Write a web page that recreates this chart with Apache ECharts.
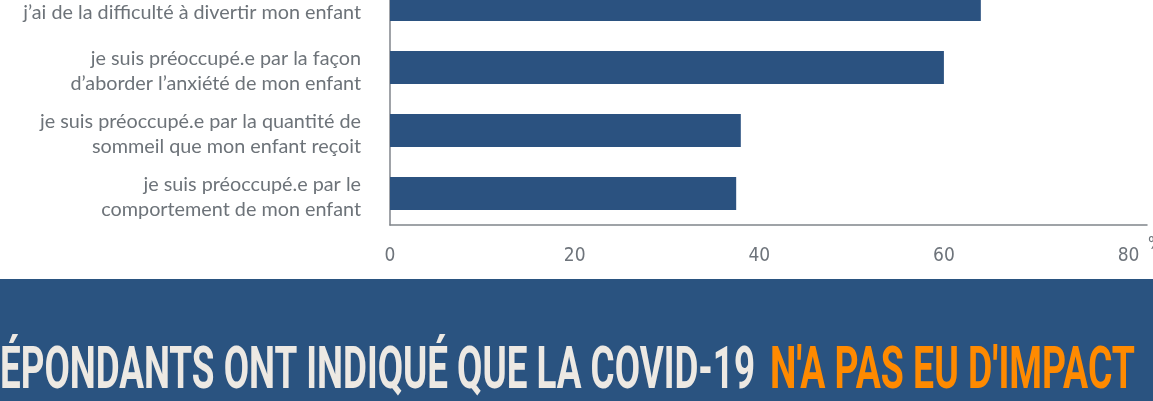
<!DOCTYPE html>
<html style="height: 100%" lang="fr">
<head>
    <meta charset="utf-8">
    <script type="text/javascript" src="https://cdn.jsdelivr.net/npm/echarts@6/dist/echarts.min.js"></script>
</head>
<body style="height: 100%; margin: 0; background: #ffffff; overflow: hidden">
<!-- the chart continues above the visible window, so the div starts above it -->
<div id="container" style="position: absolute; left: 0; top: -27px; width: 1153px; height: 428px"></div>
<script type="text/javascript">
    // categories, top to bottom
    var categories = [
        "j’ai de la difficulté à divertir mon enfant",
        "je suis préoccupé.e par la façon\nd’aborder l’anxiété de mon enfant",
        "je suis préoccupé.e par la quantité de\nsommeil que mon enfant reçoit",
        "je suis préoccupé.e par le\ncomportement de mon enfant"
    ];
    var values = [64, 60, 38, 37.5];
    var unitName = '%';

    var bannerWhite = "RÉPONDANTS ONT INDIQUÉ QUE LA COVID-19";
    var bannerOrange = "N'A PAS EU D'IMPACT";

    var offY = 27; // div offset

    var dom = document.getElementById("container");
    var myChart = echarts.init(dom);

    // banner font is condensed: measure and squeeze to width
    var bannerFont = 'bold 60px Roboto, "DejaVu Sans", sans-serif';
    var cv = document.createElement('canvas').getContext('2d');
    cv.font = bannerFont;
    var wVisible = cv.measureText("ÉPONDANTS ONT INDIQUÉ QUE LA COVID-19").width;
    var wOrange = cv.measureText(bannerOrange).width;
    var sWhite = 755 / wVisible;
    var sOrange = 365 / wOrange;

    var tickFont = '"DejaVu Sans Condensed", "Liberation Sans Narrow", Roboto, sans-serif';
    var labelColor = '#6d7379';

    var option = {
        animation: false,
        grid: {
            left: 390,
            right: 6,
            top: 0,
            height: 252
        },
        xAxis: {
            type: 'value',
            min: 0,
            max: 82,
            interval: 20,
            splitLine: {show: false},
            axisTick: {show: false},
            axisLine: {show: true, lineStyle: {color: '#80858b', width: 1.5}},
            axisLabel: {
                color: '#6e747b',
                fontFamily: tickFont,
                fontWeight: 300,
                fontSize: 19,
                margin: 22,
                showMaxLabel: false,
                formatter: function (v) {
                    return v % 20 === 0 ? String(v) : '';
                }
            }
        },
        yAxis: {
            type: 'category',
            data: categories,
            inverse: true,
            axisTick: {show: false},
            axisLine: {show: true, lineStyle: {color: '#80858b', width: 1.5}},
            axisLabel: {
                color: labelColor,
                fontFamily: 'Lato',
                fontSize: 19.8,
                lineHeight: 25,
                margin: 29,
                align: 'right',
                padding: [8, 0, 0, 0],
                // first label sits lower than its bar
                formatter: function (v) {
                    return v === categories[0] ? '{low|' + v + '}' : v;
                },
                rich: {
                    low: {
                        color: labelColor,
                        fontFamily: 'Lato',
                        fontSize: 19.8,
                        lineHeight: 25,
                        padding: [8, 0, 0, 0]
                    }
                }
            }
        },
        series: [{
            type: 'bar',
            data: values,
            barWidth: 33,
            itemStyle: {color: '#2b5280'},
            silent: true
        }],
        graphic: [
            {
                type: 'text',
                x: 1148,
                y: 236 + offY,
                style: {
                    text: unitName,
                    font: '17px ' + tickFont,
                    fill: '#6e747b',
                    align: 'left',
                    verticalAlign: 'top'
                }
            },
            {
                type: 'rect',
                x: 0,
                y: 279 + offY,
                shape: {width: 1153, height: 122},
                style: {fill: '#2a5380'},
                z: -1
            },
            {
                type: 'text',
                x: 755,
                y: 373 + offY,
                scaleX: sWhite,
                style: {
                    text: bannerWhite,
                    font: bannerFont,
                    fill: '#ede9e3',
                    align: 'right',
                    verticalAlign: 'middle'
                }
            },
            {
                type: 'text',
                x: 770,
                y: 373 + offY,
                scaleX: sOrange,
                style: {
                    text: bannerOrange,
                    font: bannerFont,
                    fill: '#ff8a00',
                    align: 'left',
                    verticalAlign: 'middle'
                }
            }
        ]
    };

    myChart.setOption(option);
</script>
</body>
</html>
